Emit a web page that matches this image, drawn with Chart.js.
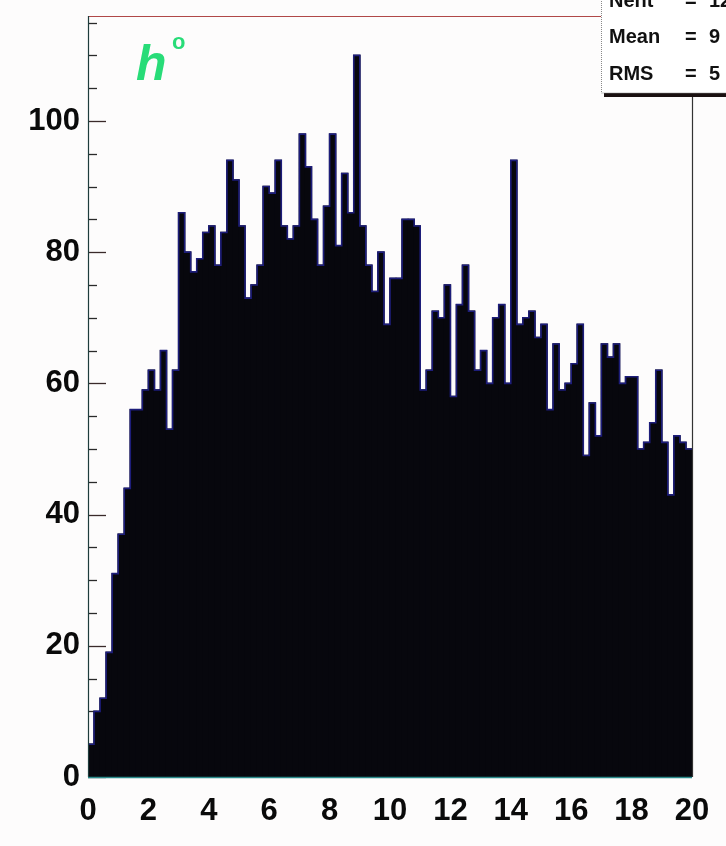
<!DOCTYPE html>
<html>
<head>
<meta charset="utf-8">
<script src="https://cdn.jsdelivr.net/npm/chart.js@4.4.1/dist/chart.umd.min.js"></script>
<style>
  html, body { margin: 0; padding: 0; background: #fdfcfc; }
  #wrap { width: 726px; height: 846px; }
</style>
</head>
<body>
<div id="wrap"><canvas id="c" width="726" height="846"></canvas></div>
<script>
// Histogram: 100 bins between 0 and 20
const binLow = 0;
const binHigh = 20;
const counts = [
  5, 10, 12, 19, 31, 37, 44, 56, 56, 59,
  62, 59, 65, 53, 62, 86, 80, 77, 79, 83,
  84, 78, 83, 94, 91, 84, 73, 75, 78, 90,
  89, 94, 84, 82, 84, 98, 93, 85, 78, 87,
  98, 81, 92, 86, 110, 84, 78, 74, 80, 69,
  76, 76, 85, 85, 84, 59, 62, 71, 70, 75,
  58, 72, 78, 71, 62, 65, 60, 70, 72, 60,
  94, 69, 70, 71, 67, 69, 56, 66, 59, 60,
  63, 69, 49, 57, 52, 66, 64, 66, 60, 61,
  61, 50, 51, 54, 62, 51, 43, 52, 51, 50
];
const xTickLabels = [0, 2, 4, 6, 8, 10, 12, 14, 16, 18, 20];
const yTickLabels = [0, 20, 40, 60, 80, 100];
const statLines = ['Nent = 12', 'Mean = 9', 'RMS  = 5'];
const histLabel = 'h';
const histLabelSup = 'o';

const binWidth = (binHigh - binLow) / counts.length;
const barPoints = counts.map((v, i) => ({ x: binLow + (i + 0.5) * binWidth, y: v }));
const outlinePoints = [{ x: binLow, y: counts[0] }]
  .concat(barPoints)
  .concat([{ x: binHigh, y: counts[counts.length - 1] }]);

const FONT = '"Liberation Sans", Arial, Helvetica, sans-serif';

// frame, inner ticks, stats box and the particle label
const decorations = {
  id: 'decorations',
  beforeDatasetsDraw(chart) {
    const { ctx, chartArea: a, scales: { y } } = chart;
    ctx.save();
    ctx.lineWidth = 1.3;
    // y ticks: major every 20, minor every 5, drawn into the frame
    for (let v = 0; v <= 115; v += 5) {
      const py = Math.round(y.getPixelForValue(v)) + 0.5;
      const major = v % 20 === 0;
      ctx.strokeStyle = major ? '#3a2a2a' : '#2a2a2a';
      ctx.beginPath();
      ctx.moveTo(a.left, py);
      ctx.lineTo(a.left + (major ? 18 : 9), py);
      ctx.stroke();
    }
    ctx.restore();
  },
  afterDatasetsDraw(chart) {
    const { ctx, chartArea: a } = chart;
    ctx.save();
    const boxLeft = 601, boxBottom = 93;

    // frame lines
    ctx.lineWidth = 1.2;
    ctx.strokeStyle = '#b04848';
    ctx.beginPath();
    ctx.moveTo(a.left, a.top + 0.5);
    ctx.lineTo(boxLeft, a.top + 0.5);
    ctx.stroke();

    ctx.strokeStyle = '#1e3c3c';
    ctx.beginPath();
    ctx.moveTo(a.left + 0.5, a.top);
    ctx.lineTo(a.left + 0.5, a.bottom);
    ctx.stroke();

    ctx.strokeStyle = '#333333';
    ctx.beginPath();
    ctx.moveTo(a.right + 0.5, boxBottom + 4);
    ctx.lineTo(a.right + 0.5, a.bottom);
    ctx.stroke();

    ctx.strokeStyle = '#2a8a8a';
    ctx.lineWidth = 1.5;
    ctx.beginPath();
    ctx.moveTo(a.left, a.bottom + 0.5);
    ctx.lineTo(a.right, a.bottom + 0.5);
    ctx.stroke();

    // stats box with shadow
    ctx.fillStyle = '#1a1010';
    ctx.fillRect(boxLeft + 3, boxBottom, 726 - boxLeft, 4);
    ctx.fillStyle = '#ffffff';
    ctx.fillRect(boxLeft, -10, 726 - boxLeft + 10, boxBottom + 10);
    ctx.strokeStyle = '#888888';
    ctx.lineWidth = 1;
    ctx.setLineDash([1, 1]);
    ctx.strokeRect(boxLeft + 0.5, -10, 726 - boxLeft + 10, boxBottom + 10);
    ctx.setLineDash([]);

    ctx.fillStyle = '#111111';
    ctx.font = 'bold 20px ' + FONT;
    ctx.textBaseline = 'alphabetic';
    ctx.textAlign = 'left';
    const rowY = [7, 43, 80];
    statLines.forEach((s, i) => {
      const parts = s.split('=');
      ctx.fillText(parts[0].trim(), boxLeft + 8, rowY[i]);
      ctx.fillText('=', boxLeft + 84, rowY[i]);
      ctx.fillText(parts[1].trim(), boxLeft + 108, rowY[i]);
    });

    // particle label
    ctx.fillStyle = '#28dc78';
    ctx.font = 'italic bold 50px ' + FONT;
    ctx.fillText(histLabel, 136, 80);
    ctx.font = 'bold 22px ' + FONT;
    ctx.fillText(histLabelSup, 172, 49);
    ctx.restore();
  }
};

new Chart(document.getElementById('c'), {
  type: 'bar',
  data: {
    datasets: [
      {
        type: 'bar',
        data: barPoints,
        backgroundColor: '#07070d',
        borderWidth: 0,
        inflateAmount: 0.7,
        barPercentage: 1,
        categoryPercentage: 1,
        order: 2
      },
      {
        type: 'line',
        data: outlinePoints,
        stepped: 'middle',
        borderColor: '#1d1d7a',
        borderWidth: 1.6,
        pointRadius: 0,
        fill: false,
        order: 1
      }
    ]
  },
  options: {
    responsive: false,
    animation: false,
    devicePixelRatio: 1,
    layout: { padding: { top: 16, right: 34, left: 0, bottom: 0 } },
    plugins: { legend: { display: false }, tooltip: { enabled: false } },
    scales: {
      x: {
        type: 'linear',
        min: binLow,
        max: binHigh,
        offset: false,
        grid: { display: false },
        border: { display: false },
        afterBuildTicks(scale) {
          scale.ticks = xTickLabels.map(v => ({ value: v }));
        },
        ticks: {
          autoSkip: false,
          maxRotation: 0,
          padding: 8,
          color: '#0a0a0a',
          font: { family: FONT, size: 31, weight: 'bold' },
          callback: v => String(v)
        },
        afterFit(scale) {
          scale.height = 69;
          scale.paddingLeft = 0;
          scale.paddingRight = 0;
        }
      },
      y: {
        type: 'linear',
        min: 0,
        max: 116,
        grid: { display: false },
        border: { display: false },
        afterBuildTicks(scale) {
          scale.ticks = yTickLabels.map(v => ({ value: v }));
        },
        ticks: {
          padding: 0,
          color: '#0a0a0a',
          font: { family: FONT, size: 31, weight: 'bold' },
          callback: v => String(v)
        },
        afterFit(scale) {
          scale.width = 88;
          scale.paddingTop = 0;
          scale.paddingBottom = 0;
        }
      }
    }
  },
  plugins: [decorations]
});
</script>
</body>
</html>
